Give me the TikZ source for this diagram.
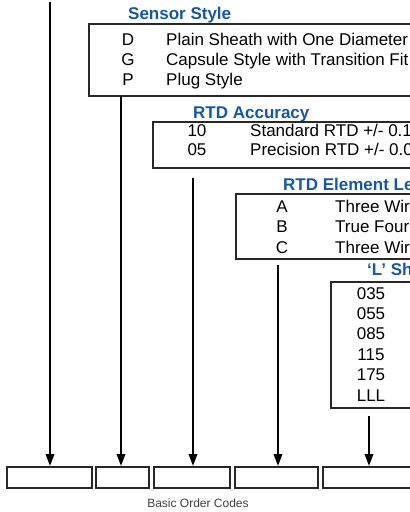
\documentclass[tikz,border=0pt]{standalone}
\usepackage{fontspec}
\setmainfont{Liberation Sans}
\usetikzlibrary{arrows.meta}
\definecolor{titleblue}{RGB}{22,88,165}
\definecolor{boxline}{RGB}{40,40,40}
\tikzset{
  codebox/.style={draw=boxline,line width=2pt},
  ttl/.style={anchor=base west,inner sep=0pt,font=\fontsize{17}{18}\selectfont\bfseries,text=titleblue},
  code/.style={anchor=base,inner sep=0pt,font=\fontsize{17}{18}\selectfont,text=black},
  desc/.style={anchor=base west,inner sep=0pt,font=\fontsize{17}{18}\selectfont,text=black},
  feed/.style={line width=2pt,-{Triangle[length=12pt,width=8.5pt]}},
  caption/.style={inner sep=0pt,font=\fontsize{12}{14}\selectfont,text=black!75}
}
\begin{document}
\begin{tikzpicture}[x=1pt,y=-1pt]
\useasboundingbox (0,0) rectangle (410,512);
\clip (0,0) rectangle (410,512);
% Sensor Style
\node[ttl] (t1) at (128,19) {Sensor Style};
\draw[codebox] (89,24) rectangle (430,96);
\node[code] (d) at (128,45) {D};
\node[desc] (dd) at (166,45) {Plain Sheath with One Diameter};
\node[code] (g) at (128,65) {G};
\node[desc] (gd) at (166,65) {Capsule Style with Transition Fit};
\node[code] (p) at (128,85) {P};
\node[desc] (pd) at (166,85) {Plug Style};
% RTD Accuracy
\node[ttl] (t2) at (193,118) {RTD Accuracy};
\draw[codebox] (153,122) rectangle (430,168);
\node[code] (a10) at (197,136) {10};
\node[desc] (a10d) at (250,136) {Standard RTD +/- 0.1};
\node[code] (a05) at (197,155) {05};
\node[desc] (a05d) at (250,155) {Precision RTD +/- 0.0};
% RTD Element Le
\node[ttl] (t3) at (283,190) {RTD Element Le};
\draw[codebox] (236,194) rectangle (430,259);
\node[code] (ea) at (282,212) {A};
\node[desc] (ead) at (335,212) {Three Wir};
\node[code] (eb) at (282,232) {B};
\node[desc] (ebd) at (335,232) {True Four};
\node[code] (ec) at (282,253) {C};
\node[desc] (ecd) at (335,253) {Three Wir};
% L Sh
\node[ttl] (t4) at (367,275) {‘L’ Sh};
\draw[codebox] (331,282) rectangle (430,408);
\node[code] (l1) at (371,299) {035};
\node[code] (l2) at (371,319) {055};
\node[code] (l3) at (371,339) {085};
\node[code] (l4) at (371,360) {115};
\node[code] (l5) at (371,380) {175};
\node[code] (l6) at (371,401) {LLL};
% bottom boxes
\node[codebox,minimum width=85pt,minimum height=21pt,inner sep=0pt] (b1) at (49.5,477.5) {};
\node[codebox,minimum width=53pt,minimum height=21pt,inner sep=0pt] (b2) at (122.5,477.5) {};
\node[codebox,minimum width=76.5pt,minimum height=21pt,inner sep=0pt] (b3) at (191.75,477.5) {};
\node[codebox,minimum width=83.5pt,minimum height=21pt,inner sep=0pt] (b4) at (276.25,477.5) {};
\node[codebox,minimum width=93.5pt,minimum height=21pt,inner sep=0pt] (b5) at (369.25,477.5) {};
\node[caption] (cap) at (198,503) {Basic Order Codes};
% connectors
\coordinate (s1) at (50,2);
\coordinate (s2) at (121,96);
\coordinate (s3) at (193,178);
\coordinate (s4) at (278,265);
\coordinate (s5) at (369,416);
\draw[feed] (s1) -- (b1.north -| s1);
\draw[feed] (s2) -- (b2.north -| s2);
\draw[feed] (s3) -- (b3.north -| s3);
\draw[feed] (s4) -- (b4.north -| s4);
\draw[feed] (s5) -- (b5.north -| s5);
\end{tikzpicture}
\end{document}
